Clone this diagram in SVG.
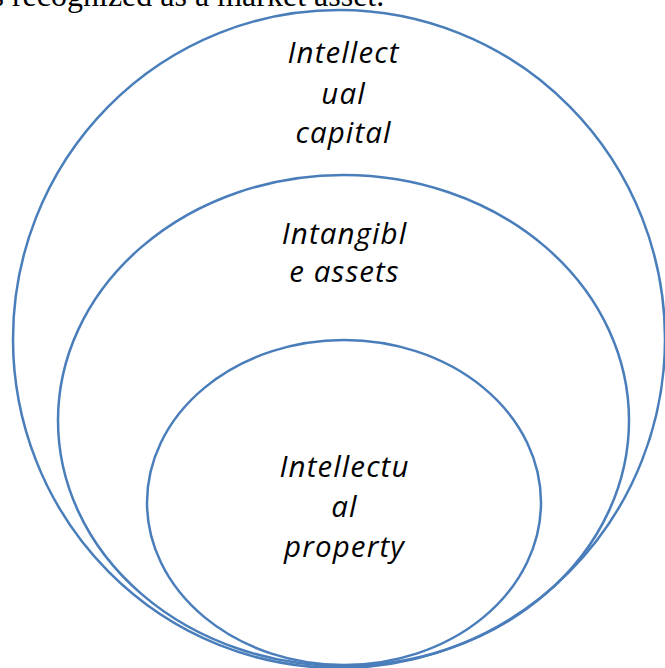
<svg xmlns="http://www.w3.org/2000/svg" width="665" height="668" viewBox="0 0 665 668">
<style>
.c{fill:none;stroke:#4a7ebb;stroke-width:2.5}
.t{font-family:"Open Sans","Noto Sans",sans-serif;font-style:italic;font-size:29.5px;letter-spacing:1.1px;fill:#000;text-anchor:middle}
.p{font-family:"Liberation Serif",serif;font-size:32px;fill:#000}
</style>
<rect width="665" height="668" fill="#fff"/>
<text class="p" x="-8.5" y="6">s recognized as a market asset.</text>
<g id="outer"><ellipse class="c" cx="339" cy="339" rx="326" ry="329"/>
<text class="t"><tspan x="343.5" y="63">Intellect</tspan><tspan x="343.5" y="104">ual</tspan><tspan x="343.5" y="143">capital</tspan></text></g>
<g id="middle"><ellipse class="c" cx="343.5" cy="420.5" rx="285.5" ry="245.5"/>
<text class="t"><tspan x="344.5" y="244">Intangibl</tspan><tspan x="344.5" y="282">e assets</tspan></text></g>
<g id="inner"><ellipse class="c" cx="344" cy="502.5" rx="197" ry="162.5"/>
<text class="t"><tspan x="344.5" y="477">Intellectu</tspan><tspan x="344.5" y="517">al</tspan><tspan x="344.5" y="557">property</tspan></text></g>
<g id="connectors"/>
</svg>
